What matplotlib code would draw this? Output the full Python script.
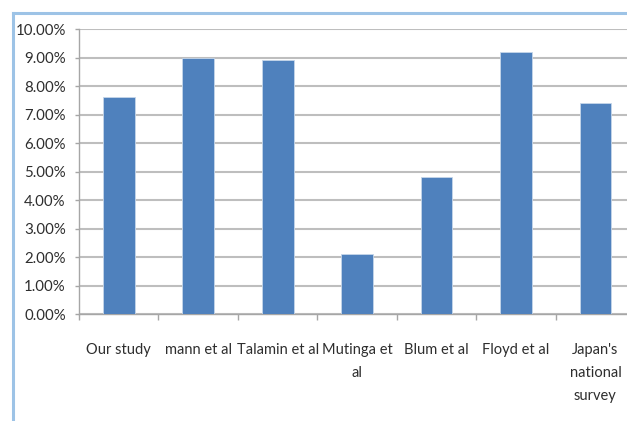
import matplotlib
matplotlib.use("Agg")
import matplotlib.pyplot as plt
from matplotlib.lines import Line2D
from matplotlib.ticker import FuncFormatter, MultipleLocator

# Study names (as wrapped on the axis) and reported prevalence (%)
studies = ["Our study", "mann et al", "Talamin et al", "Mutinga et\nal",
           "Blum et al", "Floyd et al", "Japan's\nnational\nsurvey"]
prevalence = [7.6, 9.0, 8.9, 2.1, 4.8, 9.2, 7.4]

plt.rcParams["font.family"] = ["Lato", "DejaVu Sans"]

fig = plt.figure(figsize=(6.27, 4.21), dpi=100)
ax = fig.add_axes([0.126, 0.254, 0.887, 0.677])

x = list(range(len(studies)))
ax.bar(x, [v / 100 for v in prevalence], width=0.4, color="#4F81BD",
       edgecolor="#C6D6EA", linewidth=0.6, zorder=3)

ax.set_xlim(-0.5, len(studies) - 0.5)
ax.set_ylim(0, 0.10)
ax.yaxis.set_major_locator(MultipleLocator(0.01))
ax.yaxis.set_major_formatter(FuncFormatter(lambda v, _: f"{v * 100:.2f}%"))

ax.grid(axis="y", color="#BEBEBE", linewidth=1.5, zorder=0)
ax.set_axisbelow(True)

for side in ("top", "right"):
    ax.spines[side].set_visible(False)
for side in ("left", "bottom"):
    ax.spines[side].set_color("#A6A6A6")
    ax.spines[side].set_linewidth(1.0)

# category ticks sit on the boundaries between bars
ax.set_xticks([i - 0.5 for i in range(len(studies) + 1)])
ax.set_xticklabels([])
ax.tick_params(axis="x", length=4.5, width=1.0, color="#A6A6A6", direction="out")
ax.tick_params(axis="y", length=3, width=1.0, color="#A6A6A6", pad=6.5,
               labelsize=10.8, labelcolor="#2E2E2E")

for i, name in enumerate(studies):
    ax.annotate(name, xy=(i, 0), xycoords=("data", "axes fraction"),
                xytext=(0, -20.5), textcoords="offset points",
                ha="center", va="top", fontsize=10.5, color="#2E2E2E",
                linespacing=1.85)

# light blue frame along the left and top edges
fig.add_artist(Line2D([0.021, 0.021], [0.0, 0.969], transform=fig.transFigure,
                      color="#9DC3E6", linewidth=2.2))
fig.add_artist(Line2D([0.021, 1.0], [0.969, 0.969], transform=fig.transFigure,
                      color="#9DC3E6", linewidth=2.2))

fig.savefig("out.png", dpi=100, facecolor="white")
